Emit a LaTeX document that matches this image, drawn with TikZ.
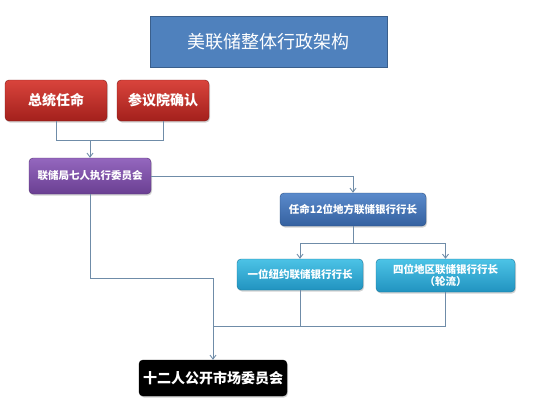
\documentclass[tikz,border=0pt]{standalone}
\usepackage{fontspec}
\newfontfamily\cjk{Noto Sans CJK SC}
\usetikzlibrary{arrows.meta,shadows}
\definecolor{lnc}{HTML}{6F8CA8}
\definecolor{titlebg}{HTML}{4F81BD}
\definecolor{titlebd}{HTML}{3A5F8C}
\definecolor{redT}{HTML}{D9443C}
\definecolor{redB}{HTML}{A3201C}
\definecolor{purT}{HTML}{9467BE}
\definecolor{purB}{HTML}{6A3F92}
\definecolor{bluT}{HTML}{5A8ACB}
\definecolor{bluB}{HTML}{3561A0}
\definecolor{cyaT}{HTML}{4CC3E6}
\definecolor{cyaB}{HTML}{2193C0}
\tikzset{
  box/.style={rounded corners=4pt, text=white, align=center, inner sep=0pt,
    font=\cjk\bfseries, drop shadow={shadow xshift=1pt, shadow yshift=-1.5pt, opacity=0.35}},
  redbox/.style={box, top color=redT, bottom color=redB, draw=redB!80!black, font=\cjk\bfseries\fontsize{14}{16}\selectfont},
  purbox/.style={box, top color=purT, bottom color=purB, draw=purB!80!black, font=\cjk\bfseries\fontsize{10.5}{12}\selectfont},
  blubox/.style={box, top color=bluT, bottom color=bluB, draw=bluB!80!black, font=\cjk\bfseries\fontsize{10.5}{12}\selectfont},
  cyabox/.style={box, top color=cyaT, bottom color=cyaB, draw=cyaB!80!black, font=\cjk\bfseries\fontsize{10.5}{12}\selectfont},
  blkbox/.style={box, fill=black, draw=black, font=\cjk\bfseries\fontsize{14}{16}\selectfont},
  conn/.style={draw=lnc, line width=0.9pt},
  arr/.style={conn, -{Straight Barb[length=4pt,width=6pt]}},
}
\begin{document}
\begin{tikzpicture}[x=1pt,y=-1pt]
\useasboundingbox (0,0) rectangle (557,402);
\node[fill=titlebg, draw=titlebd, line width=1pt, minimum width=237pt, minimum height=51pt,
  text=white, font=\cjk\fontsize{18}{20}\selectfont] (title) at (268.5,41.5) {美联储整体行政架构};
\node[redbox, minimum width=102pt, minimum height=41pt] (pres) at (56,100.5) {总统任命};
\node[redbox, minimum width=92pt, minimum height=41pt] (sen) at (163,100.5) {参议院确认};
\node[purbox, minimum width=122pt, minimum height=36pt] (fed) at (90,176) {联储局七人执行委员会};
\node[blubox, minimum width=146pt, minimum height=33pt] (app) at (353,209.5) {任命12位地方联储银行行长};
\node[cyabox, minimum width=126pt, minimum height=31pt] (ny) at (300,274.5) {一位纽约联储银行行长};
\node[cyabox, minimum width=139pt, minimum height=33pt] (four) at (445.5,275.5) {四位地区联储银行行长\\（轮流）};
\node[blkbox, minimum width=148pt, minimum height=36pt] (fomc) at (213,378) {十二人公开市场委员会};
\coordinate (j1) at (90,140);
\coordinate (j2) at (353,243);
\coordinate (j3) at (213,326);
\coordinate (j4) at (90,278);
\draw[conn] (pres.south) |- (j1);
\draw[conn] (sen.south) |- (j1);
\draw[arr] (j1) -- (fed.north);
\draw[arr] (fed.east) -| (app.north);
\draw[conn] (app.south) -- (j2);
\draw[arr] (j2) -| (ny.north);
\draw[arr] (j2) -| (four.north);
\draw[conn] (ny.south) |- (j3);
\draw[conn] (four.south) |- (j3);
\draw[arr] (fed.south) -- (j4) -| (fomc.north);
\end{tikzpicture}
\end{document}
